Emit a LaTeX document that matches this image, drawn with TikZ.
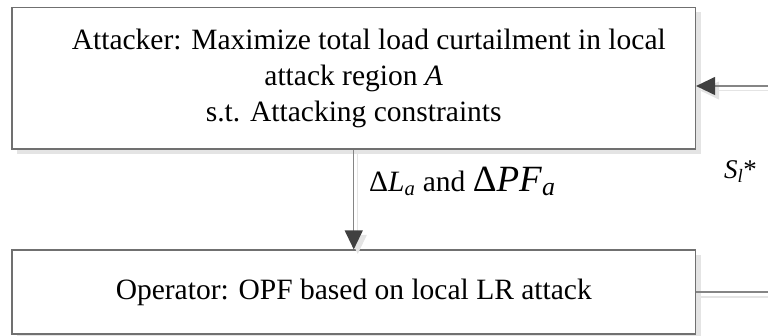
\documentclass[tikz,border=0pt]{standalone}
\usepackage{fontspec}
\setmainfont{Liberation Serif}
\usetikzlibrary{arrows.meta,shadows}

\definecolor{edgegray}{HTML}{707070}
\definecolor{linegray}{HTML}{858585}
\definecolor{tipgray}{HTML}{404040}
\definecolor{shadegray}{HTML}{E4E4E4}

\tikzset{
  procbox/.style={draw=edgegray, line width=1.2pt, fill=white, rectangle,
    inner sep=0pt, align=center,
    font=\fontsize{29.5}{36}\selectfont,
    drop shadow={shadow xshift=5pt, shadow yshift=-5pt, fill=shadegray, opacity=1}},
  flow/.style={draw=linegray, line width=1.2pt,
    -{Triangle[length=19pt,width=18pt,fill=tipgray,color=tipgray]}},
  flowshade/.style={draw=shadegray, line width=1.2pt,
    -{Triangle[length=19pt,width=18pt,fill=shadegray,color=shadegray]},
    transform canvas={shift={(4pt,-4.5pt)}}},
  plain/.style={draw=linegray, line width=1.2pt},
  plainshade/.style={draw=shadegray, line width=1.2pt,
    transform canvas={shift={(0pt,-5pt)}}},
  lbl/.style={inner sep=0pt, anchor=base west}
}

\begin{document}
\begin{tikzpicture}[x=1pt, y=1pt]
  \useasboundingbox (0,0) rectangle (768,335);

  % the two stages of the bilevel model
  \node[procbox, minimum width=683.5pt, minimum height=141.5pt] (attacker) at (353.75,256.75)
    {\hspace*{30pt}Attacker: Maximize total load curtailment in local\\
     attack region \textit{A}\\
     s.t. Attacking constraints};
  \node[procbox, minimum width=683.5pt, minimum height=84pt] (operator) at (353.75,43)
    {Operator: OPF based on local LR attack};

  % loop ends leaving the frame on the right
  \coordinate (loopin) at (768,249);
  \coordinate (loopout) at (768,43);

  % connector shadows
  \draw[flowshade] (attacker.south) -- (operator.north);
  \draw[flowshade] (loopin) -- (loopin -| attacker.east);
  \draw[plainshade] (operator.east) -- (loopout);

  % connectors
  \draw[flow] (attacker.south) -- (operator.north);
  \draw[flow] (loopin) -- (loopin -| attacker.east);
  \draw[plain] (operator.east) -- (loopout);

  % labels
  \node[lbl] (dlabel) at (369,143.3)
    {\fontsize{29.5}{36}\selectfont Δ\textit{L}\textsubscript{\textit{a}} and
     {\fontsize{37}{44}\selectfont Δ\textit{PF}\textsubscript{\textit{a}}}};
  \node[lbl] (slabel) at (724,157)
    {\fontsize{27}{32}\selectfont\textit{S}\textsubscript{\textit{l}}*};
\end{tikzpicture}
\end{document}
